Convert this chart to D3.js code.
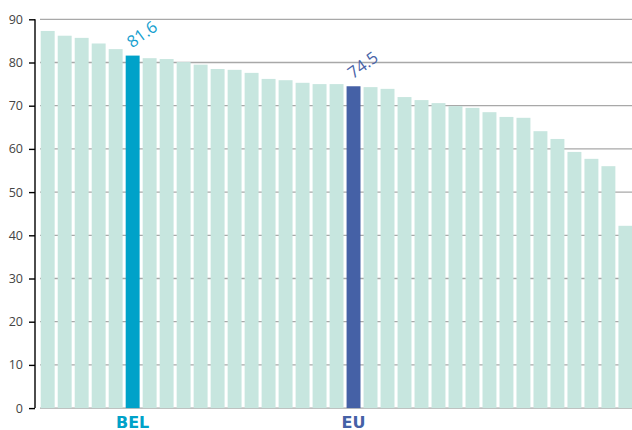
<!DOCTYPE html>
<html>
<head>
<meta charset="utf-8">
<script src="https://cdn.jsdelivr.net/npm/d3@7/dist/d3.min.js"></script>
<style>
  html, body { margin: 0; padding: 0; background: #fff; }
  svg { display: block; }
</style>
</head>
<body>
<svg id="chart" width="632" height="430"></svg>
<script>
// Data
const categories = ["C01","C02","C03","C04","C05","BEL","C07","C08","C09","C10","C11","C12","C13","C14","C15","C16","C17","C18","EU","C20","C21","C22","C23","C24","C25","C26","C27","C28","C29","C30","C31","C32","C33","C34","C35"];
const values = [87.3,86.2,85.7,84.4,83.1,81.6,81.0,80.8,80.1,79.5,78.5,78.3,77.6,76.2,75.9,75.3,75.0,75.0,74.5,74.3,73.9,72.0,71.3,70.6,69.9,69.5,68.5,67.4,67.2,64.1,62.3,59.3,57.7,56.0,42.2];
const highlighted = ["BEL","EU"];
const yTicks = [0,10,20,30,40,50,60,70,80,90];

const colors = { base: "#c7e6df", BEL: "#00a2c9", EU: "#4561a6" };
const labelColors = { BEL: "#14a0cf", EU: "#4a64a8" };

const svg = d3.select("#chart");
const x = d3.scaleBand().domain(categories).range([39.2, 633.9]).paddingInner(0.18).paddingOuter(0.09);
const y = d3.scaleLinear().domain([0, 90]).range([408.1, 19.3]);

// gridlines
svg.append("g").selectAll("line").data(yTicks).join("line")
  .attr("x1", 40).attr("x2", 632)
  .attr("y1", d => y(d)).attr("y2", d => y(d))
  .attr("stroke", "#a8a8a8").attr("stroke-width", 1.3);

// bars
svg.append("g").selectAll("rect").data(categories).join("rect")
  .attr("x", d => x(d))
  .attr("width", x.bandwidth())
  .attr("y", (d, i) => y(values[i]))
  .attr("height", (d, i) => y(0) - y(values[i]))
  .attr("fill", d => colors[d] || colors.base);

// y axis
const yAxis = d3.axisLeft(y).tickValues(yTicks).tickSize(6).tickPadding(6);
const gy = svg.append("g").attr("transform", "translate(35,0)").call(yAxis);
gy.select(".domain").attr("stroke", "#000").attr("stroke-width", 1.4).attr("d", `M0,${y(90)}V${y(0)}`);
gy.selectAll(".tick line").attr("stroke", "#000").attr("stroke-width", 1.4);
gy.selectAll(".tick text")
  .attr("fill", "#444")
  .style("font-family", "'Open Sans', sans-serif")
  .style("font-size", "12.5px");

// value labels (rotated)
highlighted.forEach(c => {
  const i = categories.indexOf(c);
  const lx = x(c) + x.bandwidth() / 2 - 0.5;
  const ly = y(values[i]) - 7;
  svg.append("text")
    .attr("transform", `translate(${lx},${ly}) rotate(-36)`)
    .attr("fill", labelColors[c])
    .style("font-family", "'Open Sans', sans-serif")
    .style("font-weight", "500")
    .style("font-size", "16.5px")
    .text(values[i].toFixed(1));
  // category label
  svg.append("text")
    .attr("x", x(c) + x.bandwidth() / 2)
    .attr("y", 427.5)
    .attr("text-anchor", "middle")
    .attr("fill", colors[c])
    .style("font-family", "'DejaVu Sans', sans-serif")
    .style("font-weight", "bold")
    .style("font-size", "16px")
    .text(c);
});
</script>
</body>
</html>
